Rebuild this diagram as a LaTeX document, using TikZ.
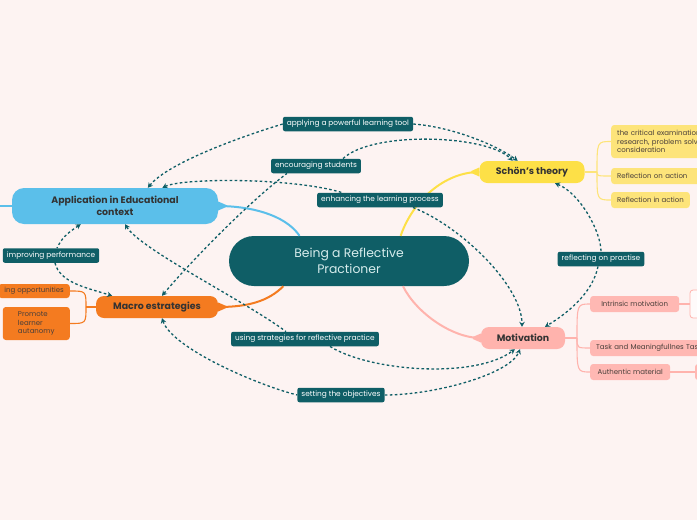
\documentclass[tikz,border=0pt]{standalone}
\usepackage{fontspec}
\setmainfont{Poppins}
\usetikzlibrary{arrows.meta,calc}
\definecolor{bg}{HTML}{FDF3F2}
\definecolor{rteal}{HTML}{0F5E66}
\definecolor{cblue}{HTML}{5BBFEA}
\definecolor{corange}{HTML}{F47B20}
\definecolor{cyellow}{HTML}{FDE047}
\definecolor{cyellowl}{HTML}{FDE47A}
\definecolor{cpink}{HTML}{FFB3AD}
\definecolor{cpinkl}{HTML}{FFB8B3}
\definecolor{ctext}{HTML}{333333}
\definecolor{cctext}{HTML}{4A3F3A}
\definecolor{centertext}{HTML}{D6ECEC}
\begin{document}
\begin{tikzpicture}[x=1pt,y=-1pt,
  lbl/.style={fill=rteal, text=white, rounded corners=2pt, font=\fontsize{7.4}{8.5}\selectfont, inner xsep=4pt, inner ysep=0pt, minimum height=14.5pt},
  rel/.style={draw=rteal, line width=1.3pt, dash pattern=on 2.6pt off 2.4pt},
  tip/.style={arrows={-Stealth[length=5pt,width=5.5pt]}},
  ptip/.style={arrows={Stealth[length=5pt,width=5.5pt]-}},
  mainbox/.style={rounded corners=9pt, font=\fontsize{9.4}{11.5}\selectfont\bfseries, text=ctext, align=center, inner sep=0pt},
  child/.style={rounded corners=3pt, font=\fontsize{7}{8.6}\selectfont, text=cctext, inner xsep=6pt, inner ysep=0pt, anchor=west, minimum height=16pt},
  br/.style={line width=1.1pt}
]
\useasboundingbox[fill=bg] (0,0) rectangle (697,520);

% main nodes
\node[fill=rteal, text=centertext, rounded corners=25pt, minimum width=240pt, minimum height=50pt, align=center, font=\fontsize{12.4}{15.5}\selectfont, inner sep=0pt] (c) at (349,261) {Being a Reflective\\Practioner};
\node[mainbox, fill=cblue, minimum width=206pt, minimum height=36pt, rounded corners=12pt] (app) at (115,206) {Application in Educational\\context};
\node[mainbox, fill=corange, minimum width=122pt, minimum height=22pt, rounded corners=8pt] (macro) at (157,307) {Macro estrategies};
\node[mainbox, fill=cyellow, minimum width=105pt, minimum height=22pt, rounded corners=8pt] (schon) at (532,172) {Schön’s theory};
\node[mainbox, fill=cpink, minimum width=84pt, minimum height=22pt, rounded corners=8pt] (motiv) at (523,338) {Motivation};

% children of Schön
\node[child, fill=cyellowl, minimum height=33pt, align=left, text width=110pt] (s1) at (611,141.5) {the critical examination of\\research, problem solving and\\consideration};
\node[child, fill=cyellowl, text width=90pt] (s2) at (611,176) {Reflection on action};
\node[child, fill=cyellowl] (s3) at (611,200) {Reflection in action};
% children of Motivation
\node[child, fill=cpinkl, minimum width=89pt] (m1) at (590,304) {Intrinsic motivation};
\node[child, fill=cpinkl, text width=130pt] (m2) at (590,348) {Task and Meaningfullnes Task};
\node[child, fill=cpinkl, minimum width=80pt] (m3) at (590,372) {Authentic material};
\node[draw=cpink, fill=white!60!bg, rounded corners=3pt, line width=0.8pt, minimum width=30pt, minimum height=28pt] (m1b) at (705,304) {};
\node[fill=cpinkl, rounded corners=3pt, minimum width=30pt, minimum height=16pt] (m3b) at (710,372) {};
% children of Macro
\node[child, fill=corange, anchor=east, minimum height=14pt] (o1) at (70,291) {ing opportunities};
\node[child, fill=corange, anchor=east, align=left, minimum height=33pt, minimum width=67pt] (o2) at (70,323.5) {Promote\\learner\\autanomy};

% branch connectors
\draw[cblue, line width=2pt] (c.153) .. controls +(-15,-22) and +(30,0) .. (app.east);
\fill[cblue] ($(app.east)+(0,-4.5)$) -- ($(app.east)+(8,-1)$) -- ($(app.east)+(8,1)$) -- ($(app.east)+(0,4.5)$) -- cycle;
\draw[cblue, line width=1.2pt] (app.west) -- ++(-20,0);
\draw[corange, line width=2pt] (c.-159) .. controls +(-15,15) and +(30,0) .. (macro.east);
\fill[corange] ($(macro.east)+(0,-4.5)$) -- ($(macro.east)+(8,-1)$) -- ($(macro.east)+(8,1)$) -- ($(macro.east)+(0,4.5)$) -- cycle;
\draw[cyellow, line width=2pt] (c.26) .. controls +(12,-35) and +(-35,0) .. (schon.west);
\fill[cyellow] ($(schon.west)+(0,-4.5)$) -- ($(schon.west)+(-8,-1)$) -- ($(schon.west)+(-8,1)$) -- ($(schon.west)+(0,4.5)$) -- cycle;
\draw[cpink, line width=2pt] (c.-25) .. controls +(12,25) and +(-30,0) .. (motiv.west);
\fill[cpink] ($(motiv.west)+(0,-4.5)$) -- ($(motiv.west)+(-8,-1)$) -- ($(motiv.west)+(-8,1)$) -- ($(motiv.west)+(0,4.5)$) -- cycle;

\coordinate (sj) at (597,172);
\draw[cyellowl, br] (schon.east) -- (sj);
\draw[cyellowl, br] (sj) .. controls (597,141.5) .. (s1.west);
\draw[cyellowl, br] (sj) .. controls (597,176) .. (s2.west);
\draw[cyellowl, br] (sj) .. controls (597,200) .. (s3.west);
\coordinate (mj) at (577,338);
\draw[cpink, br] (motiv.east) -- (mj);
\draw[cpink, br] (mj) .. controls (577,304) .. (m1.west);
\draw[cpink, br] (mj) .. controls (577,348) .. (m2.west);
\draw[cpink, br] (mj) .. controls (577,372) .. (m3.west);
\draw[cpink, br] (m1.east) -- (m1b.west);
\draw[cpink, br] (m3.east) -- (m3b.west);
\coordinate (oj) at (86,307);
\draw[corange, br] (macro.west) -- (oj);
\draw[corange, br] (oj) .. controls (86,291) .. (o1.east);
\draw[corange, br] (oj) .. controls (86,323.5) .. (o2.east);

% relation labels
\node[lbl] (l1) at (348,124) {applying a powerful learning tool};
\node[lbl] (l2) at (316,166) {encouraging students};
\node[lbl] (l3) at (380,200) {enhancing the learning process};
\node[lbl] (l4) at (51,255.5) {improving performance};
\node[lbl] (l5) at (305,339) {using strategies for reflective practice};
\node[lbl] (l6) at (341,395) {setting the objectives};
\node[lbl] (l7) at (601,259) {reflecting on practise};

% relations
\draw[rel, ptip] (app.29) .. controls +(20,-25) and +(-40,12) .. (l1.west);
\draw[rel, tip] (l1.east) .. controls +(40,3) and +(-20,-15) .. (schon.142);
\draw[rel, ptip] (macro.66) .. controls +(25,-30) and +(-40,30) .. ($(l2.south west)+(16,0)$);
\draw[rel, tip] ($(l2.north)+(27,0)$) .. controls +(30,-28) and +(-25,-26) .. (schon.150);
\draw[rel, ptip] (app.21) .. controls +(20,-10) and +(-50,-15) .. ($(l3.north west)+(25,0)$);
\draw[rel, tip] ($(l3.south east)+(-30,0)$) .. controls +(50,20) and +(0,-40) .. (motiv.95);
\draw[rel, ptip] (app.208) .. controls +(-15,10) and +(5,-10) .. ($(l4.north)+(6,0)$);
\draw[rel, tip] ($(l4.south)+(4,0)$) .. controls +(5,20) and +(-25,-8) .. (macro.166);
\draw[rel, ptip] (app.-61) .. controls +(15,25) and +(-40,-30) .. ($(l5.north west)+(55,0)$);
\draw[rel, tip] ($(l5.south)+(25,0)$) .. controls +(40,25) and +(-40,30) .. (motiv.234);
\draw[rel, ptip] (macro.-66) .. controls +(10,30) and +(-40,-10) .. (l6.west);
\draw[rel, tip] (l6.east) .. controls +(50,0) and +(-10,25) .. (motiv.255);
\draw[rel, ptip] (schon.-26) .. controls +(25,10) and +(0,-20) .. (l7.north);
\draw[rel, tip] ($(l7.south)+(-3,0)$) .. controls +(-5,25) and +(25,-15) .. (motiv.27);
\end{tikzpicture}
\end{document}
